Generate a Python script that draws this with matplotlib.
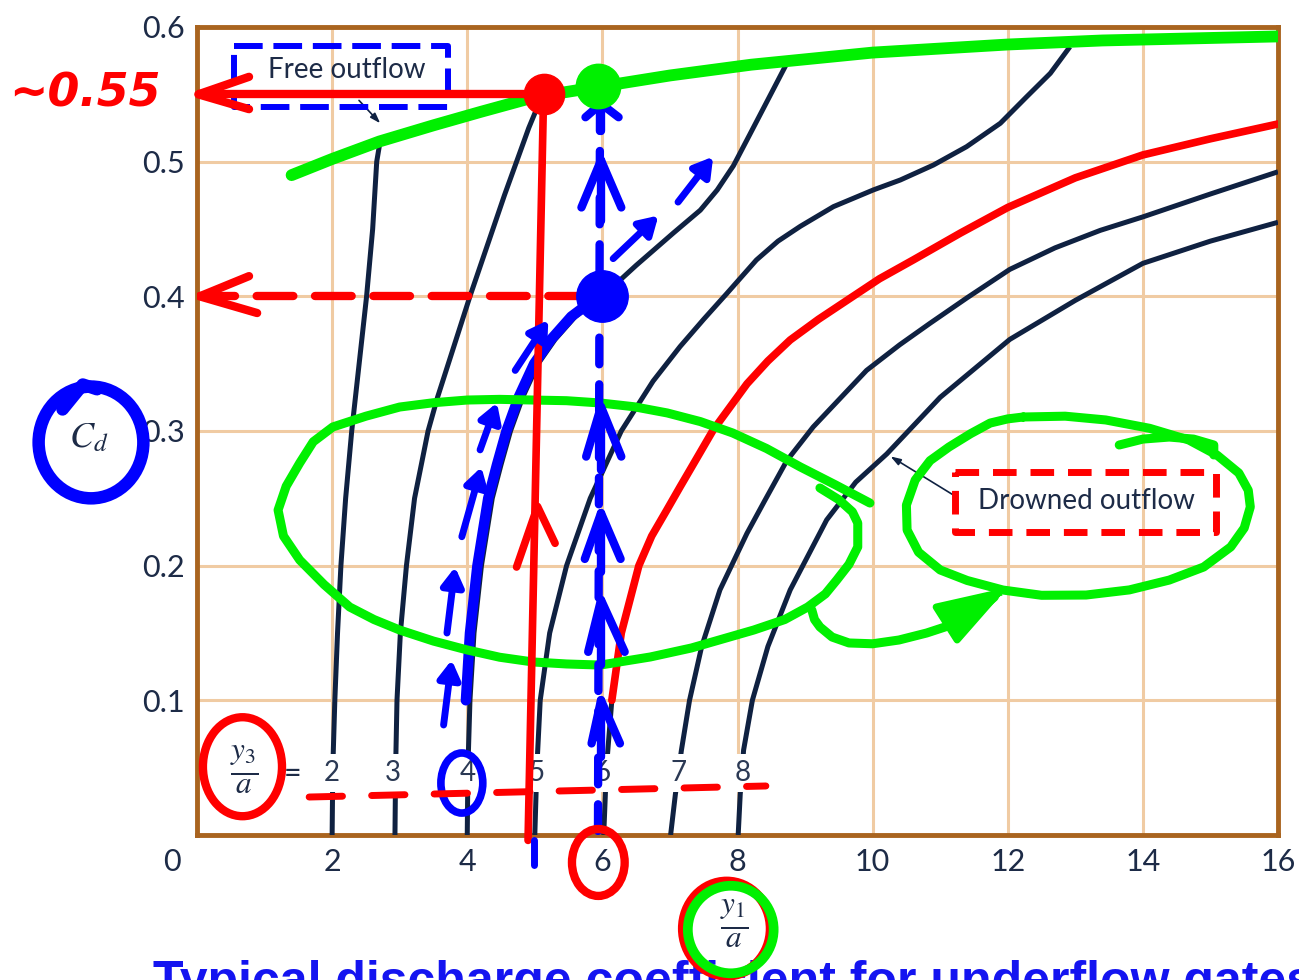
import matplotlib
matplotlib.use("Agg")
import matplotlib.pyplot as plt
from matplotlib.patches import Ellipse

plt.rcParams["font.family"] = ["Lato", "DejaVu Sans"]
plt.rcParams["mathtext.fontset"] = "stix"

# free outflow limit, Cd against y1/a
free_ratio = [1.4, 2.0, 2.7, 3.5, 4.2, 5.0, 6.0, 7.0, 8.2, 10.0, 12.0, 13.4, 16.0]
free_cd = [0.49, 0.502, 0.515, 0.527, 0.537, 0.548, 0.556, 0.564, 0.572, 0.581, 0.587, 0.59, 0.593]

# drowned outflow, one curve for each tailwater ratio y3/a
y3a_values = [2, 3, 4, 5, 6, 7, 8]

y3a2_ratio = [2.00, 2.01, 2.04, 2.08, 2.13, 2.20, 2.29, 2.40, 2.51, 2.60, 2.66, 2.71]
y3a2_cd = [0.00, 0.05, 0.10, 0.15, 0.20, 0.25, 0.30, 0.35, 0.40, 0.45, 0.50, 0.515]

y3a3_ratio = [2.93, 2.94, 2.96, 3.01, 3.10, 3.22, 3.42, 3.56, 3.72, 3.88, 4.04, 4.21, 4.38,
              4.55, 4.73, 4.91, 5.10]
y3a3_cd = [0.00, 0.05, 0.10, 0.15, 0.20, 0.25, 0.30, 0.325, 0.35, 0.375, 0.40, 0.425, 0.45,
           0.475, 0.50, 0.525, 0.548]

y3a4_ratio = [4.00, 4.01, 4.04, 4.10, 4.21, 4.37, 4.50, 4.64, 4.82, 5.05, 5.30, 5.60, 6.00,
              6.50, 7.05, 7.45, 7.70, 7.94, 8.18, 8.45, 8.73]
y3a4_cd = [0.00, 0.05, 0.10, 0.15, 0.20, 0.25, 0.275, 0.30, 0.325, 0.35, 0.368, 0.385, 0.40,
           0.423, 0.447, 0.464, 0.479, 0.497, 0.52, 0.546, 0.573]

y3a5_ratio = [5.00, 5.03, 5.08, 5.22, 5.47, 5.82, 6.28, 6.75, 7.15, 7.50, 7.84, 8.28, 8.60,
              8.93, 9.42, 10.01, 10.41, 10.90, 11.39, 11.89, 12.28, 12.63, 12.92]
y3a5_cd = [0.00, 0.05, 0.10, 0.15, 0.20, 0.25, 0.30, 0.337, 0.3627, 0.383, 0.402, 0.427, 0.441,
           0.452, 0.4666, 0.479, 0.4864, 0.4975, 0.5111, 0.5285, 0.5482, 0.5656, 0.5853]

y3a6_ratio = [6.02, 6.06, 6.14, 6.28, 6.54, 6.73, 6.95, 7.15, 7.40, 7.64, 8.14, 8.45, 8.78,
              9.20, 9.62, 10.10, 10.60, 11.30, 12.00, 13.00, 14.00, 15.00, 16.00]
y3a6_cd = [0.00, 0.05, 0.10, 0.15, 0.20, 0.222, 0.241, 0.2585, 0.28, 0.3007, 0.335, 0.352,
           0.3676, 0.383, 0.397, 0.413, 0.427, 0.447, 0.466, 0.488, 0.505, 0.517, 0.528]

y3a7_ratio = [7.01, 7.08, 7.17, 7.29, 7.47, 7.74, 8.14, 8.40, 8.73, 9.12, 9.91, 10.40, 10.85,
              11.40, 12.03, 12.70, 13.37, 14.00, 15.00, 16.00]
y3a7_cd = [0.00, 0.03, 0.063, 0.10, 0.14, 0.182, 0.224, 0.248, 0.278, 0.303, 0.345, 0.364,
           0.38, 0.399, 0.42, 0.436, 0.449, 0.459, 0.476, 0.4925]

y3a8_ratio = [8.01, 8.04, 8.09, 8.22, 8.45, 8.78, 9.32, 9.75, 10.21, 11.00, 12.03, 13.00,
              14.00, 15.00, 16.00]
y3a8_cd = [0.00, 0.03, 0.063, 0.10, 0.14, 0.182, 0.234, 0.262, 0.283, 0.325, 0.368, 0.397,
           0.4245, 0.441, 0.455]

# read-off points
cd_free_read = 0.55
cd_drowned_read = 0.40
ratio_read = 6.0

NAVY = "#0f2141"
TEXT = "#1d2b47"
BROWN = "#a9641f"
GRID = "#f0cba3"
RED = "#ff0000"
GREEN = "#00f000"
BLUE = "#0000ff"

fig = plt.figure(figsize=(12.99, 9.80), dpi=100)
ax = fig.add_axes([197 / 1299, 1 - 835 / 980, 1081 / 1299, 808 / 980])
ax.set_xlim(0, 16)
ax.set_ylim(0, 0.6)
ax.set_xticks(range(2, 17, 2))
ax.set_yticks([0.1, 0.2, 0.3, 0.4, 0.5, 0.6])
ax.set_yticklabels(["0.1", "0.2", "0.3", "0.4", "0.5", "0.6"])
ax.tick_params(length=0, labelsize=22, labelcolor=TEXT)
ax.tick_params(axis="x", pad=9)
ax.tick_params(axis="y", pad=9)
ax.grid(True, color=GRID, lw=2.2)
ax.set_axisbelow(True)
for s in ax.spines.values():
    s.set_color(BROWN)
    s.set_linewidth(3.5)
ax.text(-0.37, -0.02, "0", fontsize=22, color=TEXT, ha="center", va="center", clip_on=False)

# axis labels
ax.text(-1.61, 0.2955, r"$C_d$", fontsize=26, color=TEXT, ha="center", va="center")
ax.text(7.96, -0.066, r"$\frac{y_1}{a}$", fontsize=32, color=TEXT, ha="center", va="center")
ax.text(0.70, 0.048, r"$\frac{y_3}{a}$", fontsize=32, color=TEXT, ha="center", va="center")
ax.text(1.42, 0.045, "=", fontsize=22, color=TEXT, ha="center", va="center")

# curves
ax.plot(free_ratio, free_cd, color=NAVY, lw=3.4, zorder=3, solid_capstyle="butt")
drowned = [(y3a2_ratio, y3a2_cd), (y3a3_ratio, y3a3_cd), (y3a4_ratio, y3a4_cd),
           (y3a5_ratio, y3a5_cd), (y3a6_ratio, y3a6_cd), (y3a7_ratio, y3a7_cd),
           (y3a8_ratio, y3a8_cd)]
for xs, ys in drowned:
    ax.plot(xs, ys, color=NAVY, lw=3.6, zorder=3, solid_capstyle="butt",
            solid_joinstyle="round")

label_x = [2.0, 2.9, 4.0, 5.03, 6.01, 7.13, 8.08]
for v, lx in zip(y3a_values, label_x):
    ax.text(lx, 0.046, str(v), fontsize=20, color="#2b3954", ha="center", va="center", zorder=4,
            bbox=dict(boxstyle="square,pad=0.2", fc="white", ec="none"))

# boxed captions with pointers
ax.text(2.21, 0.568, "Free outflow", fontsize=20, color=TEXT, ha="center", va="center", zorder=4)
ax.annotate("", xy=(2.74, 0.527), xytext=(2.37, 0.547),
            arrowprops=dict(arrowstyle="-|>,head_length=0.6,head_width=0.2", color=NAVY, lw=1.2),
            zorder=4)
ax.text(13.16, 0.248, "Drowned outflow", fontsize=20, color=TEXT, ha="center", va="center", zorder=4)
ax.annotate("", xy=(10.23, 0.2822), xytext=(11.22, 0.2517),
            arrowprops=dict(arrowstyle="-|>,head_length=0.6,head_width=0.2", color=NAVY, lw=1.2),
            zorder=4)

ax.plot([0.55, 3.72, 3.72, 0.55, 0.55], [0.5856, 0.5856, 0.5408, 0.5408, 0.5856],
        color=BLUE, lw=4.3, dashes=(4.8, 1.8), zorder=6, clip_on=False)
ax.plot([11.22, 15.08, 15.08, 11.22, 11.22], [0.2698, 0.2698, 0.2251, 0.2251, 0.2698],
        color=RED, lw=5, dashes=(3.4, 2.0), zorder=6, clip_on=False)

# highlighted curves
ax.plot(free_ratio, free_cd, color=GREEN, lw=8.5, zorder=5, solid_capstyle="round",
        solid_joinstyle="round")
ax.plot(y3a6_ratio[2:], y3a6_cd[2:], color=RED, lw=5.5, zorder=5, solid_capstyle="round",
        solid_joinstyle="round")
i0, i1 = 2, y3a4_cd.index(cd_drowned_read) + 1
ax.plot([x - 0.06 for x in y3a4_ratio[i0:i1]], y3a4_cd[i0:i1], color=BLUE, lw=7.5, zorder=6,
        solid_capstyle="round", solid_joinstyle="round")

# read-off of the free outflow coefficient
ax.plot([4.90, 5.13], [-0.004, cd_free_read], color=RED, lw=5.5, zorder=7,
        solid_capstyle="round", clip_on=False)
ax.plot([4.73, 5.04, 5.30], [0.199, 0.244, 0.2166], color=RED, lw=5.5, zorder=7,
        solid_capstyle="round", solid_joinstyle="round")
ax.plot([5.13, 0.02], [cd_free_read, cd_free_read], color=RED, lw=6, zorder=7,
        solid_capstyle="round")
ax.plot([0.77, 0.02, 0.77], [cd_free_read + 0.013, cd_free_read, cd_free_read - 0.011], color=RED,
        lw=6, zorder=7, solid_capstyle="round", solid_joinstyle="round", clip_on=False)
ax.plot([5.13], [cd_free_read], "o", color=RED, ms=29, zorder=8)
ax.text(-1.66, cd_free_read, "~0.55", fontsize=33, color=RED, fontweight="bold",
        fontstyle="italic", family="DejaVu Sans", ha="center", va="center", clip_on=False)
ax.plot([5.93], [0.556], "o", color=GREEN, ms=32, zorder=8)

# read-off of the drowned coefficient
ax.plot([5.75, 0.05], [cd_drowned_read, cd_drowned_read], color=RED, lw=6, zorder=7,
        dashes=(4.4, 2.6), dash_capstyle="round")
ax.plot([0.77, 0.04, 0.89], [0.415, cd_drowned_read, 0.3876], color=RED, lw=6, zorder=7,
        solid_capstyle="round", solid_joinstyle="round")
ax.plot([ratio_read], [cd_drowned_read], "o", color=BLUE, ms=37, zorder=8)

# vertical at y1/a = 6 with arrowheads
ax.plot([5.935, 5.965], [0.003, 0.546], color=BLUE, lw=6, zorder=7, dashes=(3.2, 2.4),
        dash_capstyle="round")
chevrons = [(0.543, 0.533, 5.75, 6.24), (0.501, 0.466, 5.69, 6.28), (0.318, 0.281, 5.76, 6.28),
            (0.239, 0.205, 5.74, 6.27), (0.1745, 0.136, 5.79, 6.33), (0.100, 0.068, 5.84, 6.26)]
for tip, wing, lft, rgt in chevrons:
    ax.plot([lft, 5.98, rgt], [wing, tip, wing], color=BLUE, lw=6, zorder=7,
            solid_capstyle="round", solid_joinstyle="round")
    ax.plot([5.98, 5.98], [tip, wing - 0.01], color=BLUE, lw=6, zorder=7, solid_capstyle="round")

# dashed arrows following y3/a = 4
blue_steps = [((3.65, 0.0817), (3.77, 0.130)), ((3.70, 0.150), (3.82, 0.199)),
              ((3.92, 0.2215), (4.21, 0.2733)), ((4.19, 0.286), (4.44, 0.321)),
              ((4.71, 0.345), (5.20, 0.3824)), ((6.16, 0.428), (6.83, 0.460)),
              ((7.12, 0.470), (7.64, 0.5037))]
for a, b in blue_steps:
    ax.annotate("", xy=b, xytext=a, zorder=7,
                arrowprops=dict(arrowstyle="-|>,head_length=0.5,head_width=0.3", color=BLUE,
                                lw=5, shrinkA=0, shrinkB=0, mutation_scale=22,
                                capstyle="round", joinstyle="round"))

# circled labels
ax.add_patch(Ellipse((-1.569, 0.2915), 1.55, 0.083, fill=False, ec=BLUE, lw=9, zorder=8,
                     clip_on=False))
ax.plot([-1.99, -1.69, -1.48], [0.316, 0.3345, 0.331], color=BLUE, lw=9, zorder=8,
        solid_capstyle="round", clip_on=False)
ax.add_patch(Ellipse((0.673, 0.0507), 1.17, 0.0735, fill=False, ec=RED, lw=6, zorder=8,
                     clip_on=False))
ax.add_patch(Ellipse((3.92, 0.0386), 0.62, 0.0446, fill=False, ec=BLUE, lw=5.5, zorder=8,
                     clip_on=False))
ax.add_patch(Ellipse((5.94, -0.0204), 0.78, 0.0497, fill=False, ec=RED, lw=6, zorder=8,
                     clip_on=False))
ax.add_patch(Ellipse((7.84, -0.0695), 1.30, 0.070, fill=False, ec=RED, lw=7, zorder=8,
                     clip_on=False))
ax.add_patch(Ellipse((7.90, -0.0702), 1.27, 0.065, fill=False, ec=GREEN, lw=7, zorder=8,
                     clip_on=False))
ax.plot([4.99, 4.99], [-0.004, -0.022], color=BLUE, lw=5, zorder=8, solid_capstyle="round",
        clip_on=False)

# red ticks beneath the y3/a values
ax.plot([1.66, 8.42], [0.0282, 0.0364], color=RED, lw=5, zorder=8, dashes=(4.8, 4.2),
        dash_capstyle="round")

# free-hand loops around the drowned region
loop_x = [9.96, 9.45, 8.93, 8.43, 7.93, 7.45, 6.96, 6.47, 5.97, 5.47, 4.97, 4.48, 4.00, 3.50,
          3.00, 2.50, 2.01, 1.72, 1.52, 1.32, 1.20, 1.28, 1.52, 1.88, 2.26, 2.62, 3.00, 3.50,
          4.00, 4.48, 4.97, 5.47, 5.97, 6.71, 7.32, 8.24, 8.70, 9.04, 9.30, 9.47, 9.65, 9.78,
          9.78, 9.70, 9.50, 9.22]
loop_y = [0.2465, 0.26, 0.2733, 0.287, 0.2985, 0.307, 0.3134, 0.318, 0.3208, 0.3225, 0.3230,
          0.3235, 0.3230, 0.321, 0.3178, 0.311, 0.303, 0.292, 0.2762, 0.259, 0.2413, 0.222,
          0.2042, 0.186, 0.1693, 0.16, 0.1522, 0.144, 0.1374, 0.132, 0.1285, 0.127, 0.1262,
          0.1322, 0.1389, 0.1522, 0.16, 0.1693, 0.179, 0.1894, 0.201, 0.2139, 0.2317, 0.240,
          0.249, 0.2577]
ax.plot(loop_x, loop_y, color=GREEN, lw=6.5, zorder=6, solid_capstyle="round",
        solid_joinstyle="round")
ax.plot([9.10, 9.14, 9.22, 9.40, 9.65, 10.00, 10.39, 10.80, 11.25, 11.55, 11.80],
        [0.1671, 0.160, 0.1545, 0.147, 0.1426, 0.142, 0.1448, 0.150, 0.1574, 0.166, 0.1767],
        color=GREEN, lw=6.5, zorder=6, solid_capstyle="round", solid_joinstyle="round")
ax.fill([11.86, 10.94, 11.25], [0.1797, 0.1693, 0.1448], color=GREEN, zorder=6)
ax.plot([11.86, 10.94, 11.25, 11.86], [0.1797, 0.1693, 0.1448, 0.1797], color=GREEN, lw=5,
        zorder=6, solid_joinstyle="round")
ring_x = [12.23, 12.85, 13.45, 14.10, 14.68, 15.10, 15.42, 15.56, 15.59, 15.50, 15.30, 14.90,
          14.39, 13.80, 13.16, 12.50, 11.93, 11.40, 11.00, 10.68, 10.51, 10.50, 10.63, 10.85,
          11.13, 11.45, 11.74, 12.00, 12.23]
ring_y = [0.3104, 0.311, 0.3082, 0.302, 0.2933, 0.282, 0.2688, 0.256, 0.2436, 0.228, 0.2139,
          0.199, 0.1893, 0.182, 0.1782, 0.178, 0.1819, 0.189, 0.1968, 0.21, 0.2265, 0.245,
          0.2636, 0.278, 0.2881, 0.298, 0.3059, 0.309, 0.3104]
ax.plot(ring_x, ring_y, color=GREEN, lw=6.5, zorder=6, solid_capstyle="round",
        solid_joinstyle="round")
ax.plot([13.65, 14.0, 14.39, 14.75, 15.05, 15.05], [0.2896, 0.294, 0.2955, 0.294, 0.2896, 0.2822],
        color=GREEN, lw=6.5, zorder=6, solid_capstyle="round", solid_joinstyle="round")

# caption, running off the lower edge
fig.text(153 / 1299, 1 - 960 / 980, "Typical discharge coefficient for underflow gates",
         fontsize=36, fontweight="bold", color="#1414f0", family="Liberation Sans",
         ha="left", va="top", zorder=-1)

fig.savefig("out.png", dpi=100)
